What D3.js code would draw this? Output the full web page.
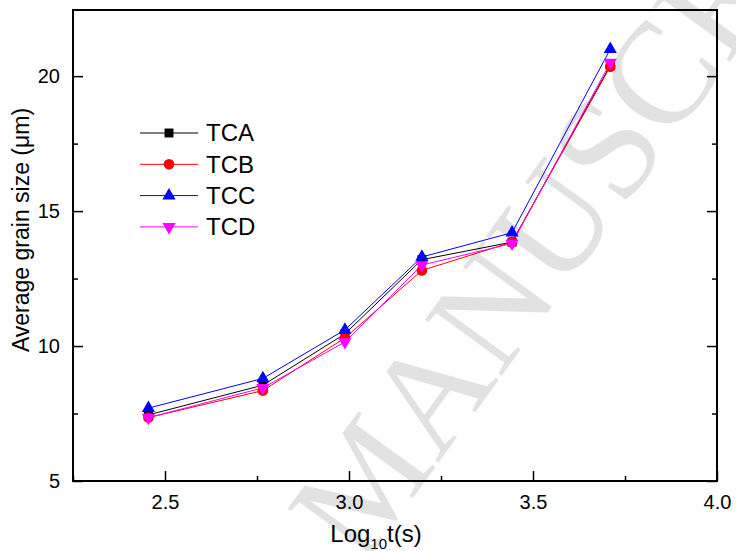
<!DOCTYPE html>
<html>
<head>
<meta charset="utf-8">
<script src="https://cdn.jsdelivr.net/npm/d3@7"></script>
<style>
  body { margin: 0; background: #fff; }
  text { font-family: Arial, "Liberation Sans", sans-serif; }
</style>
</head>
<body>
<div id="chart"></div>
<script>
// data
const logTime = [2.455, 2.766, 2.989, 3.198, 3.443, 3.71];
const tcaValues = [7.45, 8.55, 10.45, 13.2, 13.85, 20.4];
const tcbValues = [7.35, 8.35, 10.3, 12.8, 13.85, 20.35];
const tccValues = [7.7, 8.8, 10.6, 13.3, 14.2, 21.0];
const tcdValues = [7.35, 8.45, 10.15, 13.0, 13.8, 20.5];
const seriesNames = ["TCA", "TCB", "TCC", "TCD"];
const xTicks = [2.5, 3.0, 3.5, 4.0];
const yTicks = [5, 10, 15, 20];

const width = 736, height = 551;
const margin = { top: 10, right: 19, bottom: 70, left: 73 };
const w = width - margin.left - margin.right;
const h = height - margin.top - margin.bottom;

const svg = d3.select("#chart").append("svg")
  .attr("width", width).attr("height", height);

// watermark
svg.append("text")
  .attr("transform", "translate(362,568) rotate(-54)")
  .attr("fill", "#e2e2e2")
  .style("font-family", "'Liberation Serif', 'DejaVu Serif', serif")
  .style("font-size", "145px")
  .text("MANUSCRIPT");

const g = svg.append("g").attr("transform", `translate(${margin.left},${margin.top})`);

const x = d3.scaleLinear().domain([2.25, 4.0]).range([0, w]);
const y = d3.scaleLinear().domain([5, 22.45]).range([h, 0]);

const fmt1 = d3.format(".1f");

// axes, ticks pointing inward
g.append("g").attr("transform", `translate(0,${h})`)
  .call(d3.axisBottom(x).tickValues(xTicks).tickSizeInner(-10).tickSizeOuter(0).tickPadding(14).tickFormat(fmt1))
  .call(a => a.select(".domain").remove());
g.append("g").attr("transform", `translate(0,${h})`)
  .call(d3.axisBottom(x).tickValues(d3.range(2.25, 4.0, 0.5)).tickSizeInner(-5).tickSizeOuter(0).tickFormat(""))
  .call(a => a.select(".domain").remove());
g.append("g")
  .call(d3.axisLeft(y).tickValues(yTicks).tickSizeInner(-10).tickSizeOuter(0).tickPadding(13))
  .call(a => a.select(".domain").remove());
g.append("g")
  .call(d3.axisLeft(y).tickValues([7.5, 12.5, 17.5]).tickSizeInner(-5).tickSizeOuter(0).tickFormat(""))
  .call(a => a.select(".domain").remove());
g.append("g").attr("transform", `translate(${w},0)`)
  .call(d3.axisRight(y).tickValues(yTicks).tickSizeInner(-10).tickSizeOuter(0).tickFormat(""))
  .call(a => a.select(".domain").remove());
g.append("g").attr("transform", `translate(${w},0)`)
  .call(d3.axisRight(y).tickValues([7.5, 12.5, 17.5]).tickSizeInner(-5).tickSizeOuter(0).tickFormat(""))
  .call(a => a.select(".domain").remove());

g.selectAll(".tick line").attr("stroke", "#000").attr("stroke-width", 1.5);
g.selectAll(".tick text").attr("fill", "#000").style("font-size", "20px")
  .style("font-family", "Arial, 'Liberation Sans', sans-serif");

// frame
g.append("rect").attr("width", w).attr("height", h)
  .attr("fill", "none").attr("stroke", "#000").attr("stroke-width", 2);

// series
const series = [
  { name: seriesNames[0], values: tcaValues, color: "#000000", shape: d3.symbolSquare, size: 80, rot: 0 },
  { name: seriesNames[1], values: tcbValues, color: "#ff0000", shape: d3.symbolCircle, size: 90, rot: 0 },
  { name: seriesNames[2], values: tccValues, color: "#0000ff", shape: d3.symbolTriangle, size: 75, rot: 0 },
  { name: seriesNames[3], values: tcdValues, color: "#ff00ff", shape: d3.symbolTriangle, size: 75, rot: 180 }
];

const line = d3.line().x(d => x(d[0])).y(d => y(d[1]));

series.forEach(s => {
  const pts = logTime.map((t, i) => [t, s.values[i]]);
  g.append("path").datum(pts)
    .attr("d", line).attr("fill", "none")
    .attr("stroke", s.color).attr("stroke-width", 1);
});
series.forEach(s => {
  const pts = logTime.map((t, i) => [t, s.values[i]]);
  g.selectAll(null).data(pts).enter().append("path")
    .attr("d", d3.symbol().type(s.shape).size(s.size))
    .attr("transform", d => `translate(${x(d[0])},${y(d[1])}) rotate(${s.rot})`)
    .attr("fill", s.color);
});

// legend
const legend = svg.append("g").attr("transform", "translate(140,133)");
series.forEach((s, i) => {
  const row = legend.append("g").attr("transform", `translate(0,${i * 31.3})`);
  row.append("line").attr("x1", 0).attr("x2", 58).attr("stroke", s.color).attr("stroke-width", 1);
  row.append("path")
    .attr("d", d3.symbol().type(s.shape).size(s.size))
    .attr("transform", `translate(29,0) rotate(${s.rot})`)
    .attr("fill", s.color);
  row.append("text").attr("x", 66).attr("dy", "0.35em")
    .style("font-size", "24px").attr("fill", "#000").text(s.name);
});

// axis titles
const xt = svg.append("text")
  .attr("x", 376).attr("y", 542)
  .attr("text-anchor", "middle")
  .style("font-size", "24px");
xt.append("tspan").text("Log");
xt.append("tspan").attr("dy", 7).style("font-size", "15px").text("10");
xt.append("tspan").attr("dy", -7).text("t(s)");

svg.append("text")
  .attr("transform", "translate(29,230) rotate(-90)")
  .attr("text-anchor", "middle")
  .style("font-size", "23px")
  .text("Average grain size (\u03bcm)");
</script>
</body>
</html>
